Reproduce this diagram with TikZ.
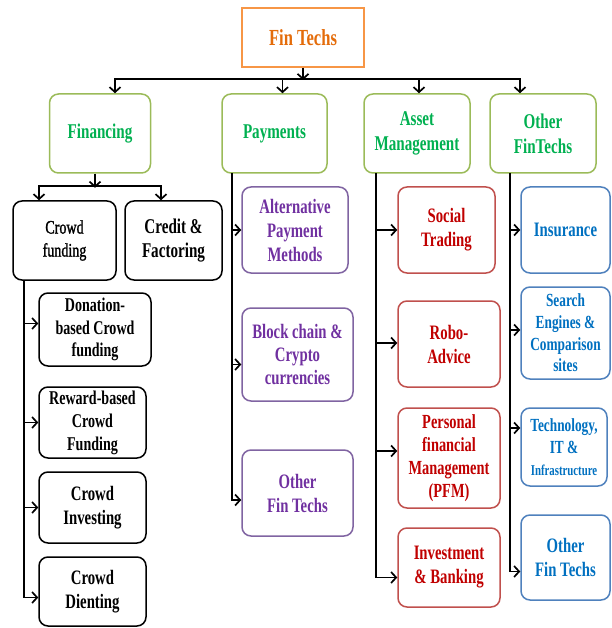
\documentclass[tikz,border=0pt]{standalone}
\usepackage{fontspec}
\setmainfont[FakeStretch=0.72]{Liberation Serif}
\newfontfamily\semibold[FakeStretch=0.74, FakeBold=1.3]{Liberation Serif}
\usepackage{xcolor}
\usetikzlibrary{arrows.meta, calc}
\definecolor{ftorange}{RGB}{247,150,70}
\definecolor{ftorangetext}{RGB}{228,108,10}
\definecolor{ftgreen}{RGB}{155,187,89}
\definecolor{ftgreentext}{RGB}{0,176,80}
\definecolor{ftpurple}{RGB}{128,100,162}
\definecolor{ftpurpletext}{RGB}{112,48,160}
\definecolor{ftred}{RGB}{192,80,77}
\definecolor{ftredtext}{RGB}{192,0,0}
\definecolor{ftblue}{RGB}{79,129,189}
\definecolor{ftbluetext}{RGB}{0,112,192}
\tikzset{>={Straight Barb[length=5pt,width=11pt]}}
\tikzset{
  box/.style={draw, line width=1.5pt, rounded corners=9pt, align=center, inner sep=0pt,
    font=\bfseries\fontsize{20.5}{24}\selectfont},
  catbox/.style={box, draw=ftgreen, text=ftgreentext, minimum height=79pt,
    font=\bfseries\fontsize{21}{25}\selectfont},
  crowdbox/.style={box, draw=black},
  paybox/.style={box, draw=ftpurple, text=ftpurpletext},
  assetbox/.style={box, draw=ftred, text=ftredtext},
  otherbox/.style={box, draw=ftblue, text=ftbluetext},
  link/.style={line width=1.7pt, ->},
  trunk/.style={line width=1.7pt, line cap=rect}
}

\begin{document}
\begin{tikzpicture}[x=1pt, y=-1pt]
    \useasboundingbox (0,0) rectangle (611,628);

    % root
    \node[draw=ftorange, line width=1.5pt, text=ftorangetext, minimum width=122pt, minimum height=59pt,
        font=\bfseries\fontsize{23}{27}\selectfont] (fin) at (303,37.5) {Fin Techs};

    % categories
    \node[catbox, minimum width=101pt] (financing) at (100,133.5) {Financing};
    \node[catbox, minimum width=105pt] (payments) at (274.5,133.5) {Payments};
    \node[catbox, minimum width=106pt] (asset) at (417,133.5) {Asset\\Management};
    \node[catbox, minimum width=106pt] (otherf) at (543,133.5) {Other\\FinTechs};

    % financing
    \node[crowdbox, minimum width=103pt, minimum height=79pt, font=\semibold\fontsize{19}{23}\selectfont] (crowd) at (64.5,240.5) {Crowd\\funding};
    \node[crowdbox, minimum width=97pt, minimum height=79pt, font=\bfseries\fontsize{21}{24}\selectfont] (credit) at (173.5,240.5) {Credit \&\\Factoring};
    \node[crowdbox, minimum width=112pt, minimum height=73pt, font=\bfseries\fontsize{19.5}{22.5}\selectfont] (donation) at (95,329.5) {Donation-\\based Crowd\\funding};
    \node[crowdbox, minimum width=107pt, minimum height=71pt, font=\bfseries\fontsize{19.5}{23}\selectfont] (reward) at (92.5,422.5) {Reward-based\\Crowd\\Funding};
    \node[crowdbox, minimum width=107pt, minimum height=71pt] (investing) at (92.5,507.5) {Crowd\\Investing};
    \node[crowdbox, minimum width=107pt, minimum height=69pt] (dienting) at (92.5,591.5) {Crowd\\Dienting};

    % payments
    \node[paybox, minimum width=106pt, minimum height=86pt] (alt) at (295,230) {Alternative\\Payment\\Methods};
    \node[paybox, minimum width=111pt, minimum height=93pt, font=\bfseries\fontsize{20.5}{23.3}\selectfont] (block) at (297.5,354.5) {Block chain \&\\Crypto\\currencies};
    \node[paybox, minimum width=111pt, minimum height=86pt] (otherp) at (297.5,493) {Other\\Fin Techs};

    % asset management
    \node[assetbox, minimum width=97pt, minimum height=86pt] (social) at (446.5,230) {Social\\Trading};
    \node[assetbox, minimum width=102pt, minimum height=86pt] (robo) at (449,344) {Robo-\\Advice};
    \node[assetbox, minimum width=102pt, minimum height=100pt, font=\bfseries\fontsize{20}{23}\selectfont] (pfm) at (449,458) {Personal\\financial\\Management\\(PFM)};
    \node[assetbox, minimum width=102pt, minimum height=79pt] (invest) at (449,567.5) {Investment\\\& Banking};

    % other fintechs
    \node[otherbox, minimum width=89pt, minimum height=86pt] (insurance) at (565.5,230) {Insurance};
    \node[otherbox, minimum width=89pt, minimum height=92pt, font=\bfseries\fontsize{18.5}{21.7}\selectfont] (search) at (565.5,333) {Search\\Engines \&\\Comparison\\sites};
    \node[otherbox, minimum width=86pt, minimum height=78pt, font=\bfseries\fontsize{18.5}{22}\selectfont] (tech) at (564,447) {Technology,\\IT \&\\{\fontsize{15}{18}\selectfont Infrastructure}};
    \node[otherbox, minimum width=89pt, minimum height=85pt] (othero) at (565.5,557.5) {Other\\Fin Techs};

    % root to categories
    \coordinate (bus) at (303,80);
    \draw[link] (fin.south) -- (bus);
    \draw[trunk] ($(financing.north)+(15,-14)$) -- ($(otherf.north)+(-23,-14)$);
    \foreach \n/\dx in {financing/15, payments/8, asset/2, otherf/-23}
        \draw[link] ($(\n.north)+(\dx,-14)$) -- ($(\n.north)+(\dx,0)$);

    % financing to its two kinds
    \draw[link] ($(financing.south)+(-5,0)$) -- ($(financing.south)+(-5,14)$);
    \draw[trunk] ($(crowd.north)+(-25.5,-14)$) -- ($(credit.north)+(-12.5,-14)$);
    \foreach \n/\dx in {crowd/-25.5, credit/-12.5}
        \draw[link] ($(\n.north)+(\dx,-14)$) -- ($(\n.north)+(\dx,0)$);

    % trunks
    \coordinate (ct) at ($(crowd.south)+(-40.5,0)$);
    \draw[trunk] (ct) -- ($(ct |- dienting.west)+(0,6)$);
    \foreach \n/\dy in {donation/-6, reward/0, investing/0, dienting/6}
        \draw[link] ($(ct |- \n.west)+(0,\dy)$) -- ($(\n.west)+(0,\dy)$);

    \coordinate (pt) at ($(payments.south)+(-42.5,0)$);
    \draw[trunk] (pt) -- ($(pt |- otherp.west)+(0,7)$);
    \foreach \n/\dy in {alt/0, block/10, otherp/7}
        \draw[link] ($(pt |- \n.west)+(0,\dy)$) -- ($(\n.west)+(0,\dy)$);

    \coordinate (at) at ($(asset.south)+(-41,0)$);
    \draw[trunk] (at) -- ($(at |- invest.west)+(0,10)$);
    \foreach \n/\dy in {social/0, robo/-1, pfm/-7, invest/10}
        \draw[link] ($(at |- \n.west)+(0,\dy)$) -- ($(\n.west)+(0,\dy)$);

    \coordinate (ot) at ($(otherf.south)+(-33,0)$);
    \draw[trunk] (ot) -- ($(ot |- othero.west)+(0,14)$);
    \foreach \n/\dy in {insurance/0, search/-3, tech/-19, othero/14}
        \draw[link] ($(ot |- \n.west)+(0,\dy)$) -- ($(\n.west)+(0,\dy)$);
\end{tikzpicture}
\end{document}
